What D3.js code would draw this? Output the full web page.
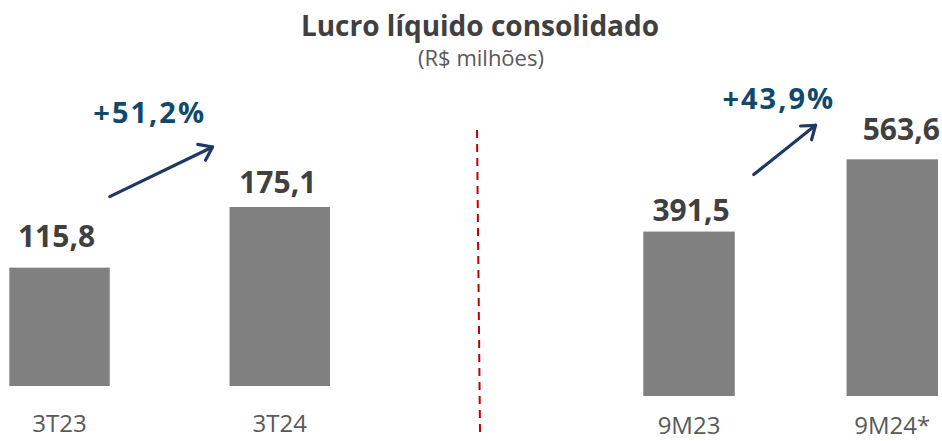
<!DOCTYPE html>
<html>
<head>
<meta charset="utf-8">
<script src="https://cdn.jsdelivr.net/npm/d3@7"></script>
<style>
  body { margin: 0; background: #fff; }
  text { font-family: "Open Sans", "Noto Sans", sans-serif; }
</style>
</head>
<body>
<svg id="graph" width="942" height="441"></svg>
<script>
// quarterly figures
const quarterCategories = ['3T23', '3T24'];
const quarterValues = [115.8, 175.1];
const quarterLabels = ['115,8', '175,1'];
const quarterGrowth = '+51,2%';

// nine-month figures
const ytdCategories = ['9M23', '9M24*'];
const ytdValues = [391.5, 563.6];
const ytdLabels = ['391,5', '563,6'];
const ytdGrowth = '+43,9%';

const titleText = 'Lucro líquido consolidado';
const subtitleText = '(R$ milhões)';

const barColor = '#808080';
const valueColor = '#404040';
const growthColor = '#0f4a6b';
const arrowColor = '#1f3864';

const svg = d3.select('#graph');

// Title
svg.append('text')
  .attr('x', 480)
  .attr('y', 36)
  .attr('text-anchor', 'middle')
  .style('font-size', '28px')
  .style('font-weight', 'bold')
  .style('fill', '#404040')
  .text(titleText);

svg.append('text')
  .attr('x', 481)
  .attr('y', 66)
  .attr('text-anchor', 'middle')
  .style('font-size', '22px')
  .style('fill', '#595959')
  .text(subtitleText);

// Divider line between the panels
svg.append('line')
  .attr('x1', 477).attr('y1', 130)
  .attr('x2', 480).attr('y2', 432)
  .attr('stroke', '#c00000')
  .attr('stroke-width', 2)
  .attr('stroke-dasharray', '8,6');

/**
 * Draw an arrow with an open chevron head
 */
const drawArrow = (x1, y1, x2, y2) => {
  const ang = Math.atan2(y2 - y1, x2 - x1);
  const len = 15, spread = Math.PI / 5;
  const head = [ang + Math.PI - spread, ang + Math.PI + spread]
    .map(a => [x2 + len * Math.cos(a), y2 + len * Math.sin(a)]);
  const g = svg.append('g')
    .attr('stroke', arrowColor)
    .attr('stroke-width', 3.2)
    .attr('fill', 'none')
    .attr('stroke-linecap', 'round')
    .attr('stroke-linejoin', 'round');
  g.append('line').attr('x1', x1).attr('y1', y1).attr('x2', x2).attr('y2', y2);
  g.append('path').attr('d', d3.line()([head[0], [x2, y2], head[1]]));
};

/**
 * Draw one panel of two bars
 */
const drawPanel = (opt) => {
  const x = d3.scaleBand()
    .domain(opt.categories)
    .range(opt.xRange)
    .paddingInner(opt.padding)
    .paddingOuter(0);
  const y = d3.scaleLinear()
    .domain([0, d3.max(opt.values)])
    .range([opt.base, opt.top]);

  const g = svg.append('g');

  g.selectAll('rect')
    .data(opt.values)
    .join('rect')
    .attr('x', (d, i) => x(opt.categories[i]))
    .attr('y', d => y(d))
    .attr('width', x.bandwidth())
    .attr('height', d => opt.base - y(d))
    .attr('fill', barColor);

  g.selectAll('.value')
    .data(opt.values)
    .join('text')
    .attr('class', 'value')
    .attr('x', (d, i) => x(opt.categories[i]) + x.bandwidth() / 2 + opt.labelShift[i])
    .attr('y', (d, i) => y(d) - opt.labelGap[i])
    .attr('text-anchor', 'middle')
    .style('font-size', '30px')
    .style('font-weight', 'bold')
    .style('fill', valueColor)
    .text((d, i) => opt.labels[i]);

  g.selectAll('.cat')
    .data(opt.categories)
    .join('text')
    .attr('class', 'cat')
    .attr('x', d => x(d) + x.bandwidth() / 2)
    .attr('y', opt.catY)
    .attr('text-anchor', 'middle')
    .style('font-size', '24px')
    .style('fill', '#595959')
    .text(d => d);

  // growth arrow anchored on the bars
  const b0 = x(opt.categories[0]) + x.bandwidth();
  const b1 = x(opt.categories[1]);
  const ax1 = b0 + opt.arrow[0], ay1 = y(opt.values[0]) - opt.arrow[1];
  const ax2 = b1 - opt.arrow[2], ay2 = y(opt.values[1]) - opt.arrow[3];
  drawArrow(ax1, ay1, ax2, ay2);

  svg.append('text')
    .attr('x', ax1 + opt.growthPos[0])
    .attr('y', opt.growthPos[1])
    .attr('text-anchor', 'middle')
    .style('font-size', '29px')
    .style('font-weight', 'bold')
    .style('letter-spacing', '2px')
    .style('fill', growthColor)
    .text(opt.growth);
};

drawPanel({
  categories: quarterCategories,
  values: quarterValues,
  labels: quarterLabels,
  growth: quarterGrowth,
  xRange: [9.3, 330],
  padding: 0.544,
  base: 386,
  top: 207,
  catY: 432,
  labelGap: [21, 14],
  labelShift: [-3, -2],
  arrow: [0, 71, 17, 60],
  growthPos: [40, 123]
});

drawPanel({
  categories: ytdCategories,
  values: ytdValues,
  labels: ytdLabels,
  growth: ytdGrowth,
  xRange: [643.3, 938],
  padding: 0.55,
  base: 396,
  top: 159.3,
  catY: 434,
  labelGap: [11, 19],
  labelShift: [2, 9],
  arrow: [19, 57, 31, 34],
  growthPos: [25, 109]
});
</script>
</body>
</html>
